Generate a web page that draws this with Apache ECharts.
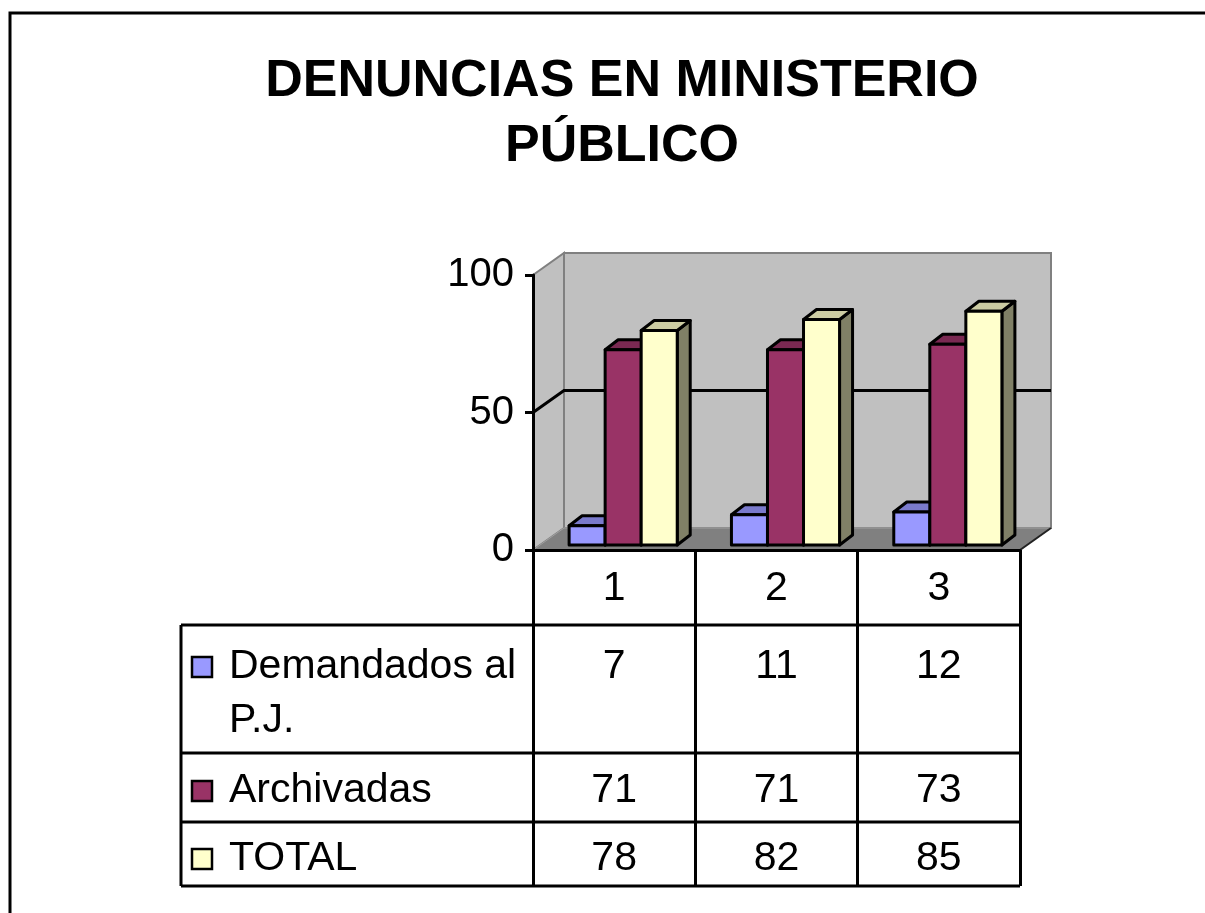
<!DOCTYPE html>
<html>
<head>
<meta charset="utf-8">
<title>Denuncias en Ministerio Público</title>
<script src="https://cdn.jsdelivr.net/npm/echarts@6/dist/echarts.min.js"></script>
<style>
  html, body { margin: 0; padding: 0; background: #fff; }
  #chart { width: 1205px; height: 913px; }
</style>
</head>
<body>
<div id="chart"></div>
<script>
// data
const categories = ['1', '2', '3'];
const seriesNames = ['Demandados al\nP.J.', 'Archivadas', 'TOTAL'];
const demandados = [7, 11, 12];
const archivadas = [71, 71, 73];
const total = [78, 82, 85];
const yTicks = [0, 50, 100];

const values = [demandados, archivadas, total];
const colors = ['#9999ff', '#993366', '#ffffcc'];
const FONT = '"Liberation Sans", Arial, sans-serif';
const TEXT_SIZE = 41;

// 3d look: wall depth, where bars sit in depth, bar thickness
const DEPTH = [31, -22];
const BAR_START = [7, -5];
const BAR_DEPTH = [13, -10];
const BAR_FRAC = 0.222;
const GROUP_SHIFT = 2;

// table rows, offsets below the floor line
const ROW_LINES = [75, 203, 272, 336];
const ROW_TEXT = [117, 241, 309];
const TABLE_LEFT = 181;

function shade(hex, k) {
  const n = parseInt(hex.slice(1), 16);
  const r = Math.round(((n >> 16) & 255) * k);
  const g = Math.round(((n >> 8) & 255) * k);
  const b = Math.round((n & 255) * k);
  return 'rgb(' + r + ',' + g + ',' + b + ')';
}

function renderFrame(params, api) {
  const cs = params.coordSys;
  const x0 = cs.x, y0 = cs.y, x1 = cs.x + cs.width, y1 = cs.y + cs.height;
  const dx = DEPTH[0], dy = DEPTH[1];
  const kids = [];

  kids.push({
    type: 'polygon',
    shape: { points: [[x0, y0], [x0 + dx, y0 + dy], [x0 + dx, y1 + dy], [x0, y1]] },
    style: { fill: '#c0c0c0', stroke: '#808080', lineWidth: 2 }
  });
  kids.push({
    type: 'rect',
    shape: { x: x0 + dx, y: y0 + dy, width: cs.width, height: cs.height },
    style: { fill: '#c0c0c0', stroke: '#808080', lineWidth: 2 }
  });
  kids.push({
    type: 'polygon',
    shape: { points: [[x0, y1], [x0 + dx, y1 + dy], [x1 + dx, y1 + dy], [x1, y1]] },
    style: { fill: '#808080', stroke: '#a0a0a0', lineWidth: 1 }
  });
  kids.push({
    type: 'line',
    shape: { x1: x1, y1: y1, x2: x1 + dx, y2: y1 + dy },
    style: { stroke: '#222', lineWidth: 2 }
  });

  // gridlines on the walls
  yTicks.forEach(function (v) {
    if (v === yTicks[0] || v === yTicks[yTicks.length - 1]) return;
    const y = api.coord([0, v])[1];
    kids.push({
      type: 'polyline',
      shape: { points: [[x0, y], [x0 + dx, y + dy], [x1 + dx, y + dy]] },
      style: { stroke: '#000', lineWidth: 3, fill: null }
    });
  });

  // data table: horizontal rules, left column, legend keys, row names
  ROW_LINES.forEach(function (off) {
    kids.push({
      type: 'line',
      shape: { x1: TABLE_LEFT, y1: y1 + off, x2: x1, y2: y1 + off },
      style: { stroke: '#000', lineWidth: 3 }
    });
  });
  kids.push({
    type: 'line',
    shape: { x1: TABLE_LEFT, y1: y1 + ROW_LINES[0], x2: TABLE_LEFT, y2: y1 + ROW_LINES[3] },
    style: { stroke: '#000', lineWidth: 3 }
  });
  seriesNames.forEach(function (name, i) {
    const cy = y1 + ROW_TEXT[i];
    kids.push({
      type: 'rect',
      shape: { x: TABLE_LEFT + 11, y: cy - 10, width: 20, height: 20 },
      style: { fill: colors[i], stroke: '#000', lineWidth: 2.5 }
    });
    kids.push({
      type: 'text',
      style: {
        text: name, x: TABLE_LEFT + 48, y: cy - 27,
        align: 'left', verticalAlign: 'top', lineHeight: 54,
        font: TEXT_SIZE + 'px ' + FONT, fill: '#000'
      }
    });
  });
  return { type: 'group', children: kids };
}

function renderBar(j) {
  return function (params, api) {
    const idx = api.value(0);
    const base = api.coord([idx, 0]);
    const top = api.coord([idx, api.value(1)]);
    const bw = api.size([1, 0])[0] * BAR_FRAC;
    const left = base[0] + GROUP_SHIFT - 1.5 * bw + j * bw + BAR_START[0];
    const right = left + bw;
    const yb = base[1] + BAR_START[1];
    const yt = top[1] + BAR_START[1];
    const ddx = BAR_DEPTH[0], ddy = BAR_DEPTH[1];
    const line = { stroke: '#000', lineWidth: 3, lineJoin: 'round' };
    return {
      type: 'group',
      children: [
        {
          type: 'polygon',
          shape: { points: [[right, yt], [right + ddx, yt + ddy], [right + ddx, yb + ddy], [right, yb]] },
          style: Object.assign({ fill: shade(colors[j], 0.5) }, line)
        },
        {
          type: 'polygon',
          shape: { points: [[left, yt], [left + ddx, yt + ddy], [right + ddx, yt + ddy], [right, yt]] },
          style: Object.assign({ fill: shade(colors[j], 0.8) }, line)
        },
        {
          type: 'rect',
          shape: { x: left, y: yt, width: bw, height: yb - yt },
          style: Object.assign({ fill: colors[j] }, line)
        }
      ]
    };
  };
}

function renderTable(params, api) {
  const idx = api.value(0);
  const cx = api.coord([idx, 0])[0];
  const yb = api.coord([idx, 0])[1];
  const kids = [];
  for (let i = 0; i < values.length; i++) {
    kids.push({
      type: 'text',
      style: {
        text: String(api.value(i + 1)), x: cx, y: yb + ROW_TEXT[i],
        align: 'center', verticalAlign: 'middle',
        font: TEXT_SIZE + 'px ' + FONT, fill: '#000'
      }
    });
  }
  return { type: 'group', children: kids };
}

const chart = echarts.init(document.getElementById('chart'));

const barSeries = values.map(function (arr, j) {
  return {
    name: seriesNames[j],
    type: 'custom',
    renderItem: renderBar(j),
    data: arr.map(function (v, i) { return [i, v]; }),
    z: 3
  };
});

const option = {
  backgroundColor: '#fff',
  animation: false,
  title: {
    text: 'DENUNCIAS EN MINISTERIO\nPÚBLICO',
    left: 617,
    top: 44,
    textAlign: 'center',
    textStyle: {
      fontFamily: FONT,
      fontSize: 52,
      fontWeight: 'bold',
      color: '#000',
      lineHeight: 65
    }
  },
  graphic: [{
    type: 'rect',
    shape: { x: 10, y: 13, width: 1300, height: 1000 },
    style: { fill: null, stroke: '#000', lineWidth: 3 },
    z: 0
  }],
  grid: { left: 533, top: 275, width: 487, height: 275 },
  xAxis: {
    type: 'category',
    data: categories,
    z: 10,
    axisLine: { lineStyle: { color: '#000', width: 3 } },
    axisTick: { show: true, interval: 0, length: 336, lineStyle: { color: '#000', width: 3 } },
    axisLabel: {
      interval: 0,
      margin: 18,
      color: '#000',
      fontFamily: FONT,
      fontSize: TEXT_SIZE,
      lineHeight: 41
    },
    splitLine: { show: false }
  },
  yAxis: {
    type: 'value',
    min: yTicks[0],
    max: yTicks[yTicks.length - 1],
    interval: 50,
    z: 10,
    axisLine: { show: true, lineStyle: { color: '#000', width: 3 } },
    axisTick: { show: true, length: 8, lineStyle: { color: '#000', width: 3 } },
    axisLabel: {
      margin: 19,
      color: '#000',
      fontFamily: FONT,
      fontSize: 40
    },
    splitLine: { show: false }
  },
  series: [
    {
      name: 'frame',
      type: 'custom',
      renderItem: renderFrame,
      data: [[0, 0]],
      silent: true,
      z: 1
    }
  ].concat(barSeries).concat([
    {
      name: 'table',
      type: 'custom',
      renderItem: renderTable,
      data: categories.map(function (c, i) {
        return [i, demandados[i], archivadas[i], total[i]];
      }),
      silent: true,
      z: 3
    }
  ])
};

chart.setOption(option);
</script>
</body>
</html>
